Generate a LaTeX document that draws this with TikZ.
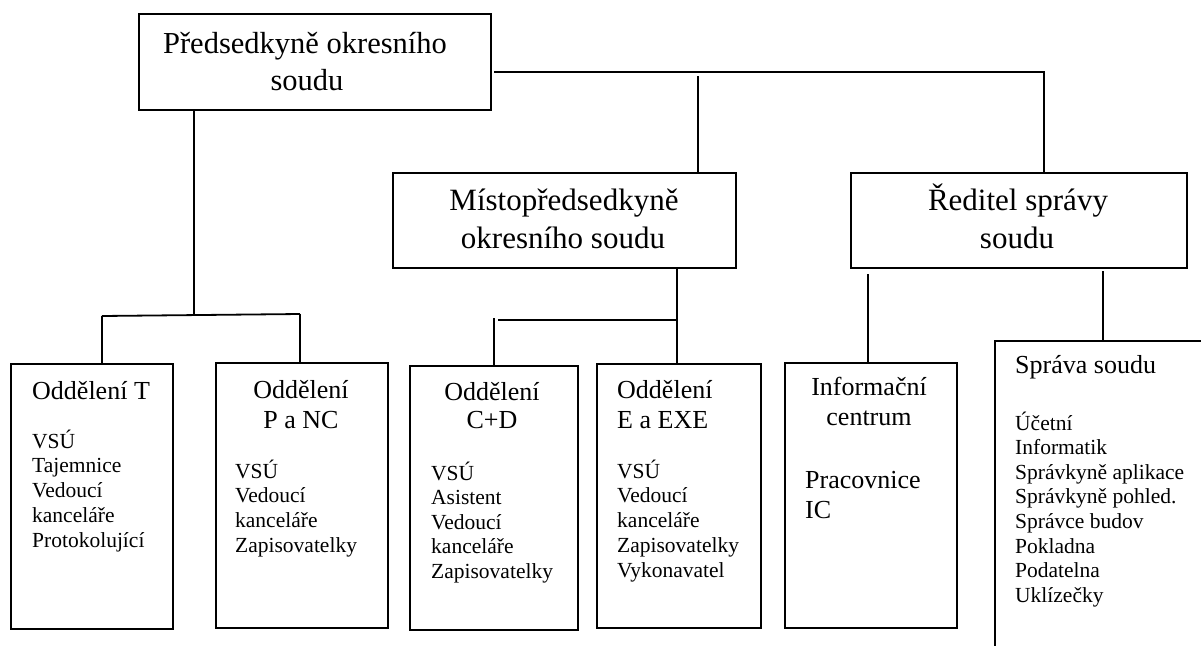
\documentclass[tikz,border=0pt]{standalone}
\usepackage{fontspec}
\setmainfont{Liberation Serif}
\begin{document}
\begin{tikzpicture}[x=1pt,y=-1pt,
  box/.style={draw, line width=1.8pt, inner sep=0pt, anchor=north west},
  ln/.style={line width=1.8pt},
  big/.style={inner sep=0pt, anchor=base, font=\fontsize{31}{36}\selectfont},
  hdc/.style={inner sep=0pt, anchor=base, font=\fontsize{26}{30}\selectfont},
  hdl/.style={inner sep=0pt, anchor=base west, font=\fontsize{26}{30}\selectfont},
  li/.style={inner sep=0pt, anchor=base west, font=\fontsize{21.5}{25}\selectfont},
]
\useasboundingbox (0,0) rectangle (1201,645);

% boxes
\node[box, minimum width=352pt, minimum height=96pt] (top) at (138,13) {};
\node[box, minimum width=343pt, minimum height=95pt] (mist) at (392,172) {};
\node[box, minimum width=336pt, minimum height=95pt] (red) at (850,172) {};
\node[box, minimum width=162pt, minimum height=265pt] (T) at (10,363) {};
\node[box, minimum width=172pt, minimum height=265pt] (P) at (215,362) {};
\node[box, minimum width=168pt, minimum height=264pt] (CD) at (409,365) {};
\node[box, minimum width=164pt, minimum height=264pt] (E) at (596,363) {};
\node[box, minimum width=172pt, minimum height=265pt] (info) at (784,362) {};
\begin{scope}
\clip (0,0) rectangle (1201,645);
\node[box, minimum width=320pt, minimum height=400pt] (spr) at (994,340) {};
\end{scope}

% top-level texts
\node[big, font=\fontsize{30.5}{36}\selectfont] (t1) at (305,53) {Předsedkyně okresního};
\node[big, font=\fontsize{30.5}{36}\selectfont] (t2) at (307,90) {soudu};
\node[big] (m1) at (564,210) {Místopředsedkyně};
\node[big] (m2) at (563,248) {okresního soudu};
\node[big] (r1) at (1018,210) {Ředitel správy};
\node[big] (r2) at (1017,248) {soudu};

% department headers
\node[hdl] (Th) at (32,399) {Oddělení T};
\node[hdc] (Ph1) at (301,398) {Oddělení};
\node[hdc] (Ph2) at (301,428) {P a NC};
\node[hdc] (Ch1) at (492,400) {Oddělení};
\node[hdc] (Ch2) at (492,428) {C+D};
\node[hdl] (Eh1) at (617,398) {Oddělení};
\node[hdl] (Eh2) at (617,428) {E a EXE};
\node[hdc] (Ih1) at (869,395) {Informační};
\node[hdc] (Ih2) at (869,425) {centrum};
\node[hdl] (Ip1) at (805,488) {Pracovnice};
\node[hdl] (Ip2) at (805,518) {IC};
\node[hdl] (Sh) at (1015,373) {Správa soudu};

% lists
\foreach \t [count=\i from 0] in {VSÚ,Tajemnice,Vedoucí,kanceláře,Protokolující}
  \node[li] (tl\i) at (32,448+24.8*\i) {\t};
\foreach \t [count=\i from 0] in {VSÚ,Vedoucí,kanceláře,Zapisovatelky}
  \node[li] (pl\i) at (235,478+24.7*\i) {\t};
\foreach \t [count=\i from 0] in {VSÚ,Asistent,Vedoucí,kanceláře,Zapisovatelky}
  \node[li] (cl\i) at (431,480+24.5*\i) {\t};
\foreach \t [count=\i from 0] in {VSÚ,Vedoucí,kanceláře,Zapisovatelky,Vykonavatel}
  \node[li] (el\i) at (617,478+24.75*\i) {\t};
\foreach \t [count=\i from 0] in {Účetní,Informatik,Správkyně aplikace,Správkyně pohled.,Správce budov,Pokladna,Podatelna,Uklízečky}
  \node[li] (sl\i) at (1015,430+24.6*\i) {\t};

% connectors
\coordinate (a1) at (494,72);
\coordinate (a2) at (1044,72);
\coordinate (a3) at (698,76);
\draw[ln] (a1) -- (a2) -- (a2 |- red.north);
\draw[ln] (a3) -- (a3 |- mist.north);

\coordinate (b1) at (194,315);
\coordinate (b2) at (102,316);
\coordinate (b3) at (300,314);
\draw[ln] (b1 |- top.south) -- (b1);
\draw[ln] (b2) -- (b3);
\draw[ln] (b2) -- (b2 |- T.north);
\draw[ln] (b3) -- (b3 |- P.north);

\coordinate (c1) at (677,320);
\coordinate (c2) at (498,320);
\coordinate (c3) at (494,318);
\draw[ln] (c1 |- mist.south) -- (c1 |- E.north);
\draw[ln] (c1) -- (c2);
\draw[ln] (c3) -- (c3 |- CD.north);

\coordinate (d1) at (868,274);
\draw[ln] (d1) -- (d1 |- info.north);
\coordinate (e1) at (1103,271);
\draw[ln] (e1) -- (e1 |- spr.north);
\end{tikzpicture}
\end{document}
